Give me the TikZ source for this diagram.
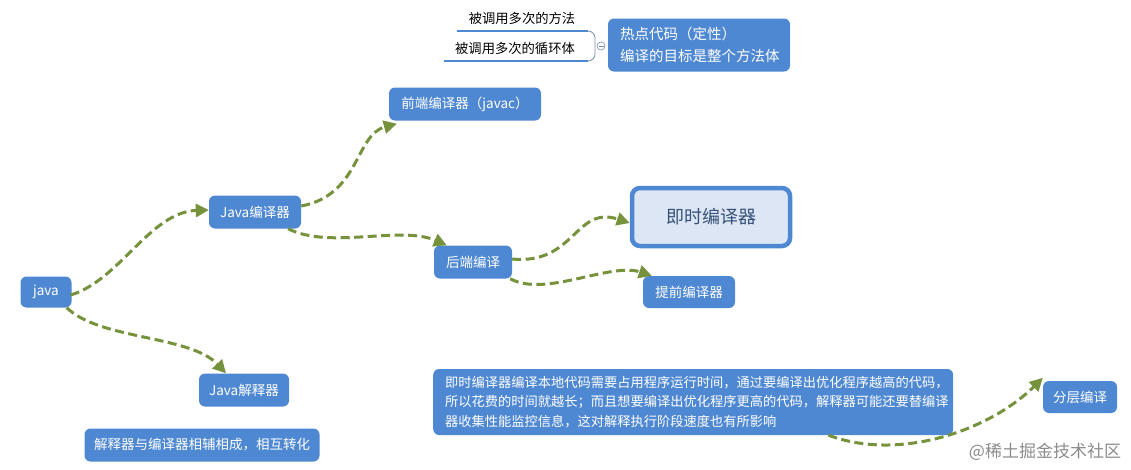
\documentclass[tikz,border=0pt]{standalone}
\usepackage{fontspec}
\newfontfamily\cjk{Noto Sans CJK SC}
\usetikzlibrary{arrows.meta}
\definecolor{nodeblue}{RGB}{79,136,210}
\definecolor{jitfill}{RGB}{220,230,244}
\definecolor{jittext}{RGB}{55,80,120}
\definecolor{arrowgreen}{RGB}{118,146,60}
\definecolor{linegray}{RGB}{120,140,170}
\tikzset{
  bluebox/.style={rectangle, rounded corners=6pt, fill=nodeblue, text=white,
    font=\cjk\fontsize{13.5}{16}\selectfont, inner sep=0pt, minimum height=33pt},
  plaintext/.style={font=\cjk\fontsize{13.3}{16}\selectfont, text=black, inner sep=0pt},
  flow/.style={draw=arrowgreen, line width=3pt, dash pattern=on 9pt off 4.5pt,
    -{Triangle[length=13pt,width=13pt]}},
  underl/.style={draw=nodeblue, line width=2.5pt},
  bracket/.style={draw=linegray, line width=0.8pt},
}
\begin{document}
\begin{tikzpicture}[x=1pt,y=-1pt]
\useasboundingbox[fill=white] (0,0) rectangle (1131,469);

% top cluster
\node[plaintext] (m1) at (522,18) {被调用多次的方法};
\node[plaintext] (m2) at (515,48) {被调用多次的循环体};
\coordinate (u1a) at (457,31);
\coordinate (u1b) at (588,31);
\coordinate (u2a) at (444,61);
\coordinate (u2b) at (588,61);
\draw[underl] (u1a) -- (u1b);
\draw[underl] (u2a) -- (u2b);
\draw[bracket] (u1b) to[out=0,in=90] (595,38) -- (595,54) to[out=-90,in=0] (u2b);
\node[circle, draw=linegray, line width=0.6pt, minimum size=8pt, inner sep=0pt] (ci) at (601,46) {};
\draw[linegray, line width=0.6pt] (598.5,46) -- (603.5,46);
\node[bluebox, minimum width=182pt, minimum height=53pt, align=left, text width=158pt,
  font=\cjk\fontsize{14.5}{22}\selectfont] (hot) at (699,45)
  {热点代码（定性）\\编译的目标是整个方法体};

% main nodes
\node[bluebox, minimum width=51pt, minimum height=31pt] (java) at (46,292) {java};
\node[bluebox, minimum width=92pt] (jc) at (255,212) {Java编译器};
\node[bluebox, minimum width=152pt] (fe) at (465,104) {前端编译器（javac）};
\node[bluebox, minimum width=78pt] (be) at (473,262) {后端编译};
\node[rectangle, rounded corners=8pt, draw=nodeblue, line width=4.5pt, fill=jitfill,
  text=jittext, font=\cjk\fontsize{18}{22}\selectfont, minimum width=158pt,
  minimum height=58pt] (jit) at (711,217) {即时编译器};
\node[bluebox, minimum width=92pt, minimum height=32pt] (aot) at (689,292) {提前编译器};
\node[bluebox, minimum width=90pt] (interp) at (244,390) {Java解释器};
\node[bluebox, minimum width=235pt] (note1) at (202,445) {解释器与编译器相辅相成，相互转化};
\node[bluebox, anchor=west, minimum width=520pt, minimum height=66pt, align=left,
  text width=496pt, font=\cjk\fontsize{13.25}{19.5}\selectfont] (note2) at (433,402)
  {即时编译器编译本地代码需要占用程序运行时间，通过要编译出优化程序越高的代码，\\所以花费的时间就越长；而且想要编译出优化程序更高的代码，解释器可能还要替编译\\器收集性能监控信息，这对解释执行阶段速度也有所影响};
\node[bluebox, minimum width=74pt, minimum height=32pt] (tier) at (1080,397) {分层编译};

% watermark
\node[font=\cjk\fontsize{17}{18}\selectfont, text=black!45, inner sep=0pt] (wm) at (1045,452) {@稀土掘金技术社区};

% connectors
\draw[flow] ([xshift=-1pt,yshift=-3pt]java.east) .. controls (120,280) and (150,212) .. ([yshift=2pt]jc.west);
\draw[flow] ([xshift=-5pt]java.south east) .. controls (100,340) and (190,335) .. ([xshift=-18pt]interp.north);
\draw[flow] ([yshift=6pt]jc.east) .. controls (360,195) and (355,135) .. ([xshift=8pt,yshift=-3pt]fe.south west);
\draw[flow] ([xshift=33pt]jc.south) .. controls (330,250) and (400,225) .. ([xshift=13pt]be.north west);
\draw[flow] ([yshift=3pt]be.east) .. controls (575,265) and (575,205) .. ([yshift=-6pt]jit.west);
\draw[flow] ([xshift=-2pt]be.south east) .. controls (545,298) and (610,262) .. ([xshift=9pt]aot.north west);
\draw[flow] ([xshift=-125pt]note2.south east) .. controls (900,462) and (990,430) .. ([yshift=3pt]tier.north west);
\end{tikzpicture}
\end{document}
